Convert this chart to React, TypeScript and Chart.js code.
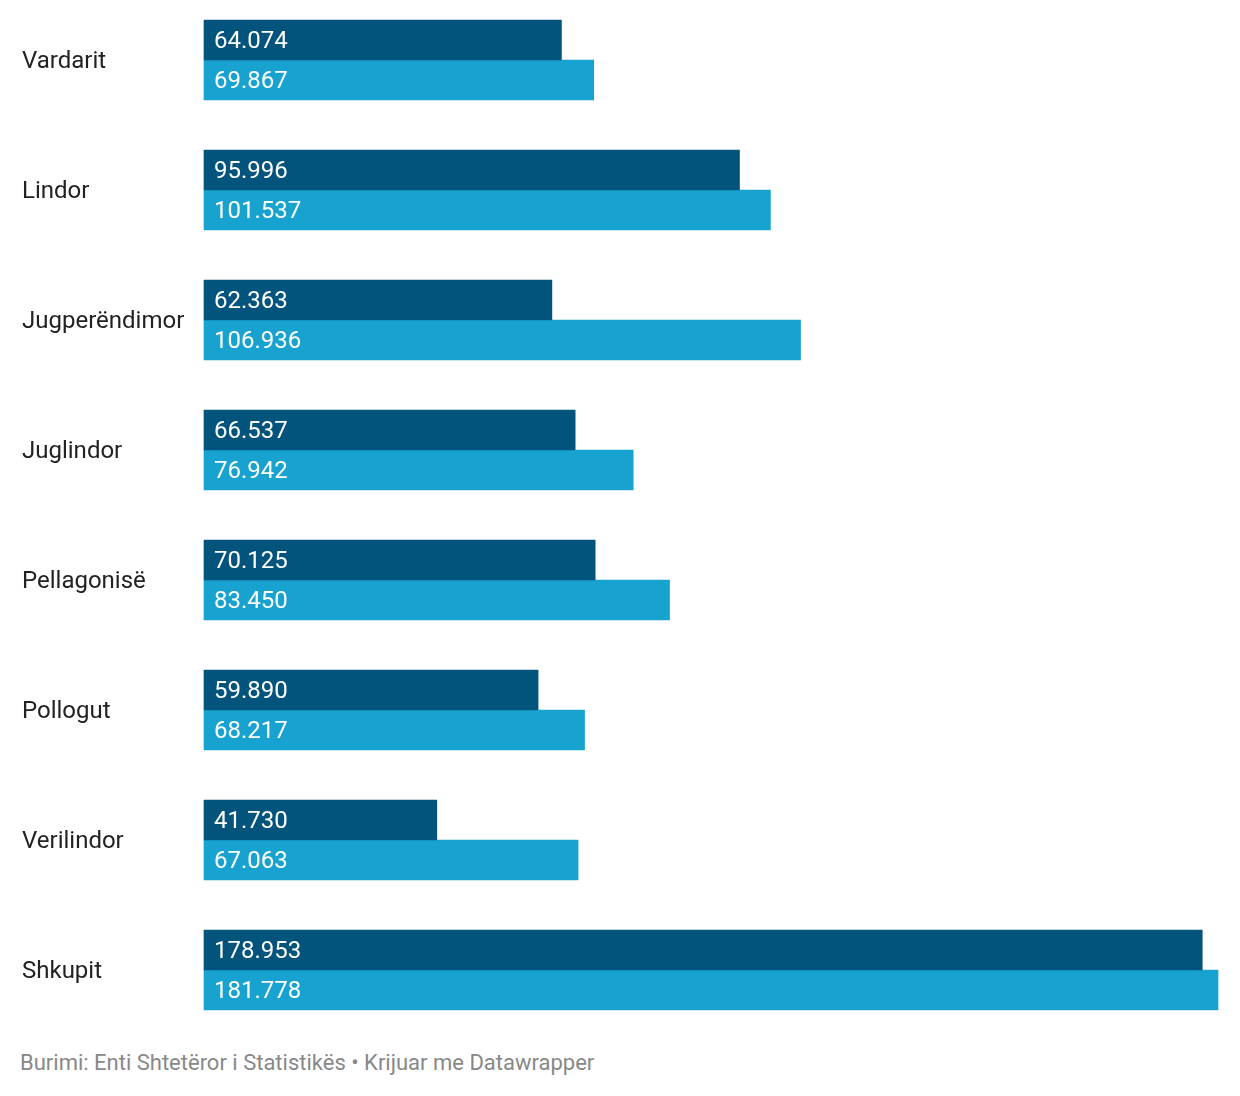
import React, { useEffect, useRef } from "react";
import { Chart, registerables } from "chart.js";

Chart.register(...registerables);

const categories = ["Vardarit", "Lindor", "Jugperëndimor", "Juglindor", "Pellagonisë", "Pollogut", "Verilindor", "Shkupit"];
const seriesA = [64074, 95996, 62363, 66537, 70125, 59890, 41730, 178953];
const seriesB = [69867, 101537, 106936, 76942, 83450, 68217, 67063, 181778];
const seriesNames = ["A", "B"];
const colors = ["#03547c", "#18a2cf"];
const footer = "Burimi: Enti Shtetëror i Statistikës • Krijuar me Datawrapper";

const FONT = "Roboto, 'Noto Sans', sans-serif";

function fmt(v: number): string {
  return String(v).replace(/\B(?=(\d{3})+(?!\d))/g, ".");
}

const labelPlugin = {
  id: "barLabels",
  afterDatasetsDraw(chart: any) {
    const ctx = chart.ctx;
    ctx.save();
    ctx.font = `24px ${FONT}`;
    ctx.fillStyle = "#ffffff";
    ctx.textAlign = "left";
    ctx.textBaseline = "middle";
    chart.data.datasets.forEach((ds: any, di: number) => {
      const meta = chart.getDatasetMeta(di);
      meta.data.forEach((el: any, i: number) => {
        ctx.fillText(fmt(ds.data[i]), el.base + 10, el.y + 1.5);
      });
    });
    ctx.restore();
  },
};

export default function App() {
  const ref = useRef<HTMLCanvasElement>(null);
  useEffect(() => {
    if (!ref.current) return;
    const chart = new Chart(ref.current, {
      type: "bar",
      data: {
        labels: categories,
        datasets: [
          { label: seriesNames[0], data: seriesA, backgroundColor: colors[0], barThickness: 40, clip: false as any },
          { label: seriesNames[1], data: seriesB, backgroundColor: colors[1], barThickness: 40, clip: false as any },
        ],
      },
      options: {
        indexAxis: "y",
        animation: false,
        responsive: false,
        maintainAspectRatio: false,
        layout: { padding: { left: 22, right: 22, top: 60, bottom: 70 } },
        plugins: { legend: { display: false }, tooltip: { enabled: false } },
        scales: {
          x: { display: false, min: 0, max: 181778 },
          y: {
            offset: false,
            grid: { display: false },
            border: { display: false },
            ticks: { crossAlign: "far", color: "#222222", font: { size: 24, family: FONT }, padding: 0, labelOffset: 2 },
            afterFit: (scale: any) => {
              scale.width = 182;
            },
          },
        },
      },
      plugins: [labelPlugin],
    });
    return () => chart.destroy();
  }, []);
  return (
    <div style={{ position: "absolute", left: 0, top: 0, width: 1240, height: 1096, background: "#fff" }}>
      <canvas ref={ref} width={1240} height={1040} style={{ display: "block" }} />
      <div
        style={{
          position: "absolute",
          left: 20,
          top: 1050,
          fontFamily: FONT,
          fontSize: 22,
          color: "#888888",
          whiteSpace: "nowrap",
        }}
      >
        {footer}
      </div>
    </div>
  );
}
